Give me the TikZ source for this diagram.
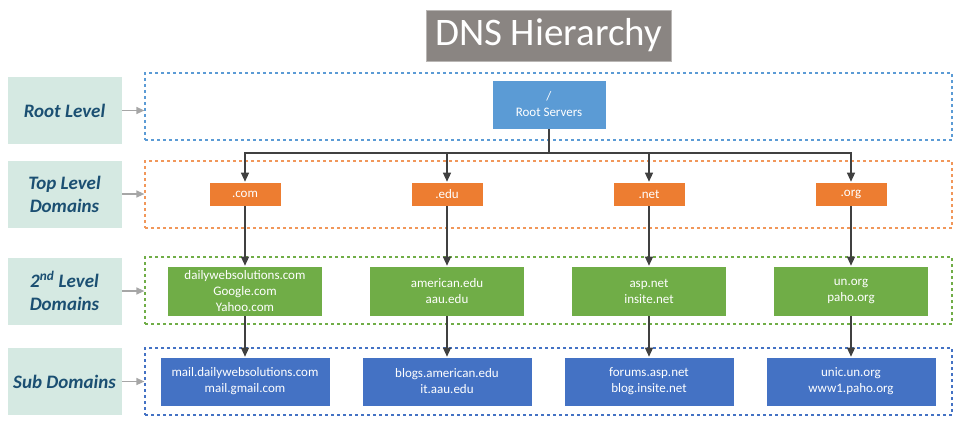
\documentclass[tikz,border=0pt]{standalone}
\usepackage{fontspec}
\setmainfont{Carlito}
\usepackage{xcolor}
\usetikzlibrary{arrows.meta, positioning}
\definecolor{titlegrey}{HTML}{8A8582}
\definecolor{lvlfill}{HTML}{D5E9E2}
\definecolor{lvltext}{HTML}{1B4F72}
\definecolor{rootblue}{HTML}{5B9BD5}
\definecolor{tldorange}{HTML}{ED7D31}
\definecolor{sldgreen}{HTML}{70AD47}
\definecolor{subblue}{HTML}{4472C4}
\definecolor{arrowgrey}{HTML}{404040}
\definecolor{hintgrey}{HTML}{A6A6A6}
\tikzstyle{titlebox} = [rectangle, minimum width=245pt, minimum height=51pt, fill=titlegrey, draw=titlegrey!60!white, text=white, font=\fontsize{39}{40}\selectfont]
\tikzstyle{lvlbox} = [rectangle, minimum width=115pt, minimum height=68pt, fill=lvlfill, draw=white, text=lvltext, align=center, font=\fontsize{19}{23}\selectfont\bfseries\itshape]
\tikzstyle{zone} = [rectangle, minimum width=807pt, minimum height=67pt, line width=1.2pt, dash pattern=on 3pt off 3pt]
\tikzstyle{box} = [rectangle, draw=white, line width=0.6pt, text=white, align=center, font=\fontsize{13}{16}\selectfont]
\tikzstyle{root} = [box, minimum width=114pt, minimum height=49pt, fill=rootblue]
\tikzstyle{tld} = [box, minimum width=72pt, minimum height=24pt, fill=tldorange]
\tikzstyle{sld} = [box, minimum width=155pt, minimum height=50pt, fill=sldgreen]
\tikzstyle{subbox} = [box, minimum width=170pt, minimum height=49pt, fill=subblue]
\tikzstyle{arrow} = [line width=1.2pt, draw=arrowgrey, -{Triangle[length=9pt,width=8pt]}]
\tikzstyle{hint} = [line width=1.3pt, draw=hintgrey, -{Triangle[length=8pt,width=7pt]}]

\begin{document}
\begin{tikzpicture}[x=1pt, y=-1pt, node distance=202pt]
    \useasboundingbox (0,0) rectangle (957,420);
    \node (title) [titlebox] at (548.5,35.5) {DNS Hierarchy};

    % dashed level frames
    \node (rootzone) [zone, draw=rootblue] at (548.5,106.5) {};
    \node (tldzone) [zone, draw=tldorange!80!white] at (548.5,194.5) {};
    \node (sldzone) [zone, draw=sldgreen] at (548.5,290.5) {};
    \node (subzone) [zone, draw=subblue] at (548.5,381.5) {};

    % level labels
    \node (rootlvl) [lvlbox] at (64.5,110.5) {Root Level};
    \node (tldlvl) [lvlbox] at (64.5,194) {Top Level\\Domains};
    \node (sldlvl) [lvlbox] at (64.5,291) {2\textsuperscript{nd} Level\\Domains};
    \node (sublvl) [lvlbox] at (64.5,381.5) {Sub Domains};

    \node (root) [root] at (549,104.5) {/\\Root Servers};
    \coordinate (bus) at (549,153);

    \node (com) [tld] at (245,194) {.com};
    \node (edu) [tld, right of=com] {.edu};
    \node (net) [tld, right of=edu] {.net};
    \node (org) [tld, right of=net] {.org};

    \node (dws) [sld] at (245,291) {dailywebsolutions.com\\Google.com\\Yahoo.com};
    \node (amer) [sld, right of=dws] {american.edu\\aau.edu};
    \node (asp) [sld, right of=amer] {asp.net\\insite.net};
    \node (un) [sld, right of=asp] {un.org\\paho.org};

    \node (mdws) [subbox] at (245,381.5) {mail.dailywebsolutions.com\\mail.gmail.com};
    \node (blogs) [subbox, right of=mdws] {blogs.american.edu\\it.aau.edu};
    \node (forums) [subbox, right of=blogs] {forums.asp.net\\blog.insite.net};
    \node (unic) [subbox, right of=forums] {unic.un.org\\www1.paho.org};

    \foreach \l/\z in {rootlvl/rootzone, tldlvl/tldzone, sldlvl/sldzone, sublvl/subzone}
        \draw [hint] (\l.east) -- (\l.east -| \z.west);

    \foreach \t in {com, edu, net, org}
        \draw [arrow] (root) -- (bus) -| (\t);
    \foreach \a/\b/\c in {com/dws/mdws, edu/amer/blogs, net/asp/forums, org/un/unic} {
        \draw [arrow] (\a) -- (\b);
        \draw [arrow] (\b) -- (\c);
    }
\end{tikzpicture}
\end{document}
